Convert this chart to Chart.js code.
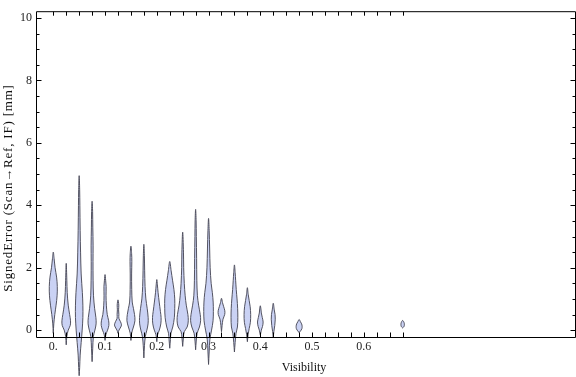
<!DOCTYPE html>
<html><head><meta charset="utf-8">
<script src="https://cdn.jsdelivr.net/npm/chart.js@4.4.1/dist/chart.umd.min.js"></script>
<style>html,body{margin:0;padding:0;background:#fff;overflow:hidden}</style>
</head><body>
<canvas id="c" width="576" height="377" style="width:576px;height:377px;display:block"></canvas>
<script>
// ---- data ----
const visibility = [0, 0.025, 0.05, 0.075, 0.1, 0.125, 0.15, 0.175, 0.2, 0.225, 0.25, 0.275, 0.3, 0.325, 0.35, 0.375, 0.4, 0.425, 0.475, 0.675];
// signed error levels (mm) at which the violin outline was read
const errorLevels = [
  [-0.1, 0.2, 0.5, 0.8, 1.1, 1.4, 1.7, 2.0, 2.3, 2.5],
  [-0.47, -0.2, 0.0, 0.15, 0.3, 0.5, 0.8, 1.2, 1.6, 2.14],
  [-1.46, -1.2, -0.8, -0.4, 0.0, 0.4, 0.8, 1.2, 1.8, 2.5, 3.2, 4.0, 4.5, 4.95],
  [-1.01, -0.6, -0.2, 0.0, 0.2, 0.4, 0.7, 1.1, 1.6, 2.2, 2.7, 3.3, 3.8, 4.13],
  [-0.33, -0.15, 0.0, 0.15, 0.3, 0.5, 0.8, 1.1, 1.4, 1.6, 1.78],
  [-0.1, 0.0, 0.1, 0.17, 0.27, 0.38, 0.5, 0.65, 0.8, 0.97],
  [-0.33, -0.1, 0.1, 0.3, 0.5, 0.7, 0.9, 1.3, 1.8, 2.2, 2.45, 2.69],
  [-0.89, -0.5, -0.2, 0.0, 0.2, 0.4, 0.7, 1.0, 1.4, 1.9, 2.4, 2.75],
  [-0.37, -0.15, 0.0, 0.2, 0.4, 0.6, 0.9, 1.2, 1.45, 1.62],
  [-0.58, -0.3, -0.1, 0.1, 0.4, 0.7, 1.0, 1.3, 1.6, 1.9, 2.2],
  [-0.52, -0.25, -0.05, 0.1, 0.3, 0.5, 0.8, 1.1, 1.5, 2.0, 2.5, 3.14],
  [-0.63, -0.35, -0.1, 0.1, 0.3, 0.5, 0.8, 1.1, 1.6, 2.3, 3.0, 3.5, 3.87],
  [-1.1, -0.7, -0.3, 0.0, 0.3, 0.6, 0.9, 1.2, 1.5, 2.0, 2.6, 3.2, 3.58],
  [-0.05, 0.15, 0.35, 0.5, 0.62, 0.75, 0.88, 1.02],
  [-0.7, -0.4, -0.1, 0.1, 0.4, 0.7, 1.0, 1.3, 1.6, 1.85, 2.09],
  [-0.37, -0.15, 0.05, 0.25, 0.5, 0.75, 0.95, 1.15, 1.36],
  [-0.16, 0.0, 0.12, 0.26, 0.4, 0.55, 0.68, 0.78],
  [-0.23, -0.05, 0.15, 0.35, 0.5, 0.65, 0.86],
  [-0.08, 0.0, 0.05, 0.12, 0.2, 0.27, 0.34],
  [0.07, 0.12, 0.19, 0.25, 0.31]
];
// relative density (violin half-width) at each level
const densities = [
  [0, 0.5, 1.5, 2.8, 3.8, 4.0, 3.3, 1.8, 0.8, 0],
  [0, 0.6, 2.0, 4.0, 4.3, 3.4, 2.0, 1.0, 0.6, 0],
  [0, 0.5, 1.0, 2.0, 3.0, 3.7, 3.7, 3.2, 2.0, 1.4, 1.0, 0.7, 0.5, 0],
  [0, 0.6, 1.3, 2.8, 4.0, 3.8, 2.5, 1.4, 1.0, 0.9, 1.0, 0.7, 0.5, 0],
  [0, 0.8, 2.5, 3.8, 3.6, 2.2, 1.3, 1.0, 1.1, 0.6, 0],
  [0, 1.0, 2.8, 3.5, 2.5, 0.9, 0.9, 0.6, 0.8, 0],
  [0, 0.7, 2.5, 4.0, 3.6, 2.5, 1.3, 0.8, 0.7, 0.9, 0.7, 0],
  [0, 0.6, 1.5, 3.0, 4.2, 4.3, 3.3, 2.0, 1.2, 0.8, 0.5, 0],
  [0, 0.8, 2.5, 4.0, 4.3, 3.6, 2.4, 1.3, 0.6, 0],
  [0, 0.7, 1.2, 3.0, 4.6, 5.0, 5.0, 4.2, 2.8, 1.4, 0],
  [0, 0.7, 1.6, 4.5, 5.6, 5.2, 3.6, 2.5, 1.6, 1.0, 0.8, 0],
  [0, 0.6, 1.5, 3.8, 5.0, 4.6, 3.0, 1.8, 1.2, 1.0, 0.7, 0.5, 0],
  [0, 0.6, 1.3, 3.0, 4.5, 4.8, 4.6, 3.8, 2.6, 1.6, 1.1, 0.6, 0],
  [0, 0.6, 1.5, 3.2, 3.3, 2.2, 1.0, 0],
  [0, 0.7, 1.6, 3.0, 3.4, 3.2, 2.6, 1.8, 1.2, 0.7, 0],
  [0, 0.7, 1.8, 3.0, 3.3, 2.8, 1.8, 0.8, 0],
  [0, 1.0, 2.2, 2.8, 2.0, 1.0, 0.6, 0],
  [0, 0.6, 1.5, 2.0, 1.8, 1.0, 0],
  [0, 2.0, 2.8, 3.0, 2.5, 1.3, 0],
  [0, 1.4, 1.7, 1.3, 0]
];
const binTicks = [0, 0.025, 0.05, 0.075, 0.1, 0.125, 0.15, 0.175, 0.2, 0.225, 0.25, 0.275, 0.3, 0.325, 0.35, 0.375, 0.4, 0.425, 0.45, 0.475, 0.5, 0.525, 0.55, 0.575, 0.6, 0.625, 0.65, 0.675];
const xTickValues = [0, 0.1, 0.2, 0.3, 0.4, 0.5, 0.6];
const yTickValues = [0, 2, 4, 6, 8, 10];
const yMinorTicks = [0, 0.5, 1, 1.5, 2, 2.5, 3, 3.5, 4, 4.5, 5, 5.5, 6, 6.5, 7, 7.5, 8, 8.5, 9, 9.5, 10];
const xTitle = 'Visibility';
const yTitle = 'SignedError (Scan\u2192Ref, IF) [mm]';

// ---- styling ----
const FONT = '"Liberation Serif", "DejaVu Serif", serif';
const FILL = '#cad2f4';
const EDGE = 'rgba(75,75,90,0.95)';
const HALF_WIDTH_UNIT = 1 / 517.6; // x-units per density unit

function violinPoints(cx, ys, ws) {
  const pts = [];
  for (let i = 0; i < ys.length; i++) pts.push({x: cx + ws[i] * HALF_WIDTH_UNIT, y: ys[i]});
  for (let i = ys.length - 2; i >= 0; i--) pts.push({x: cx - ws[i] * HALF_WIDTH_UNIT, y: ys[i]});
  return pts;
}

const datasets = visibility.map((v, i) => ({
  label: 'V=' + v,
  data: violinPoints(v, errorLevels[i], densities[i]),
  borderColor: EDGE,
  borderWidth: 1,
  pointRadius: 0,
  pointHoverRadius: 0,
  fill: false,
  tension: 0.35,
  clip: false
}));

const violinFill = {
  id: 'violinFill',
  beforeDatasetDraw(chart, args) {
    const line = args.meta.dataset;
    if (!line) return;
    const ctx = chart.ctx;
    line.updateControlPoints(chart.chartArea, 'x');
    ctx.save();
    ctx.beginPath();
    line.path(ctx);
    ctx.closePath();
    ctx.fillStyle = FILL;
    ctx.fill();
    ctx.restore();
  }
};

const frame = {
  id: 'frame',
  afterDatasetsDraw(chart) {
    const {ctx, chartArea: a, scales: {x, y}} = chart;
    ctx.save();
    ctx.strokeStyle = '#000';
    ctx.lineWidth = 1;
    const L = a.left + 0.5, R = a.right + 0.5, T = a.top + 0.5, B = a.bottom + 0.5;
    ctx.beginPath();
    ctx.moveTo(L, T); ctx.lineTo(R, T); ctx.lineTo(R, B); ctx.lineTo(L, B); ctx.closePath();
    ctx.stroke();
    ctx.beginPath();
    binTicks.forEach(v => {
      const px = Math.round(x.getPixelForValue(v)) + 0.5;
      ctx.moveTo(px, B); ctx.lineTo(px, B - 5);
      ctx.moveTo(px, T); ctx.lineTo(px, T + 4);
    });
    yMinorTicks.forEach(v => {
      const py = Math.round(y.getPixelForValue(v)) + 0.5;
      const len = (v % 2 === 0) ? 5 : 3;
      ctx.moveTo(L, py); ctx.lineTo(L + len, py);
      ctx.moveTo(R, py); ctx.lineTo(R - len, py);
    });
    ctx.stroke();
    // axis titles
    ctx.fillStyle = '#111';
    ctx.font = '12px ' + FONT;
    ctx.textAlign = 'center';
    ctx.textBaseline = 'middle';
    ctx.fillText(xTitle, 304, 368);
    ctx.translate(8.5, 188);
    ctx.rotate(-Math.PI / 2);
    ctx.font = '13px ' + FONT;
    try { ctx.letterSpacing = '0.8px'; } catch (e) {}
    ctx.fillText(yTitle, 0, 0);
    ctx.restore();
  }
};

new Chart(document.getElementById('c'), {
  type: 'line',
  data: {datasets},
  options: {
    responsive: false,
    devicePixelRatio: 1,
    animation: false,
    events: [],
    layout: {padding: {top: 4, right: 1, left: 0, bottom: 0}},
    elements: {line: {capBezierPoints: false}},
    plugins: {legend: {display: false}, tooltip: {enabled: false}},
    scales: {
      x: {
        type: 'linear',
        min: -0.0334,
        max: 1.008,
        grid: {display: false, drawTicks: false},
        border: {display: false},
        afterBuildTicks: s => { s.ticks = xTickValues.map(v => ({value: v})); },
        afterFit: s => { s.height = 40; },
        ticks: {
          padding: 3,
          color: '#222',
          font: {family: FONT, size: 12},
          maxRotation: 0,
          autoSkip: false,
          callback: v => v === 0 ? '0.' : v.toFixed(1)
        }
      },
      y: {
        type: 'linear',
        min: -0.22,
        max: 10.22,
        grid: {display: false, drawTicks: false},
        border: {display: false},
        afterBuildTicks: s => { s.ticks = yTickValues.map(v => ({value: v})); },
        afterFit: s => { s.width = 36; },
        ticks: {
          padding: 4,
          color: '#222',
          font: {family: FONT, size: 12},
          autoSkip: false,
          callback: v => String(v)
        }
      }
    }
  },
  plugins: [violinFill, frame]
});
</script>
</body></html>
